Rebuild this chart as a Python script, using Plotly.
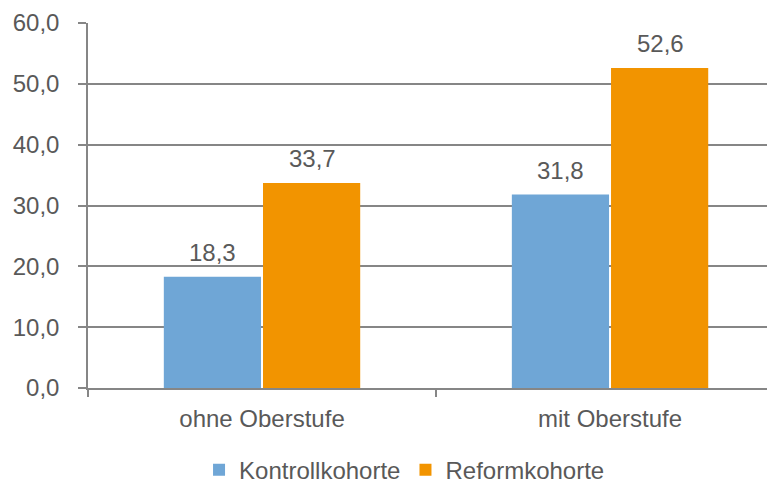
import plotly.graph_objects as go

categories = ['ohne Oberstufe', 'mit Oberstufe']
kontroll = [18.3, 31.8]
reform = [33.7, 52.6]
series_names = ['Kontrollkohorte', 'Reformkohorte']
y_ticks = [0, 10, 20, 30, 40, 50, 60]

blue = '#6FA6D6'
orange = '#F29400'
grey = '#595959'
line_grey = '#868686'
fsize = 24

fig = go.Figure()
for name, vals, col in [(series_names[0], kontroll, blue), (series_names[1], reform, orange)]:
    fig.add_trace(go.Bar(
        name=name, x=categories, y=vals,
        marker=dict(color=col, line=dict(width=0)),
        offsetgroup=name,
    ))

# data labels
for i, cat in enumerate(categories):
    for j, vals in enumerate([kontroll, reform]):
        fig.add_annotation(
            x=cat, y=vals[i], text=f'{vals[i]:.1f}'.replace('.', ','),
            showarrow=False, yanchor='bottom', yshift=9,
            xshift=(-50 if j == 0 else 50),
            font=dict(size=fsize, color=grey),
        )

# page body has an 8px margin, so the figure is sized/offset to compensate
fig.update_layout(
    width=767, height=478,
    margin=dict(l=80, r=0, t=15, b=98, autoexpand=False),
    plot_bgcolor='white', paper_bgcolor='white',
    font=dict(family='Liberation Sans, Arial, sans-serif', size=fsize, color=grey),
    barmode='group', bargap=0.43, bargroupgap=0.02,
    separators=',.',
    legend=dict(orientation='h', xref='container', x=0.517, xanchor='center',
                y=-0.225, yanchor='middle',
                font=dict(size=fsize, color=grey), itemwidth=30),
    showlegend=True,
)
fig.update_xaxes(
    range=[-0.5, 1.474], tickson='boundaries', ticks='outside', ticklen=7,
    tickcolor=line_grey, tickwidth=1.5, showline=True, linecolor=line_grey,
    linewidth=1.5, showgrid=False, ticklabelstandoff=8, automargin=False,
)
fig.update_yaxes(
    range=[0, 60], tickvals=y_ticks, tickformat='.1f', ticks='outside', ticklen=8,
    tickcolor=line_grey, tickwidth=1.5, showline=True, linecolor=line_grey,
    linewidth=1.5, gridcolor=line_grey, gridwidth=1.5, zeroline=False,
    ticklabelstandoff=14, automargin=False,
)

fig.write_html('out.html')
